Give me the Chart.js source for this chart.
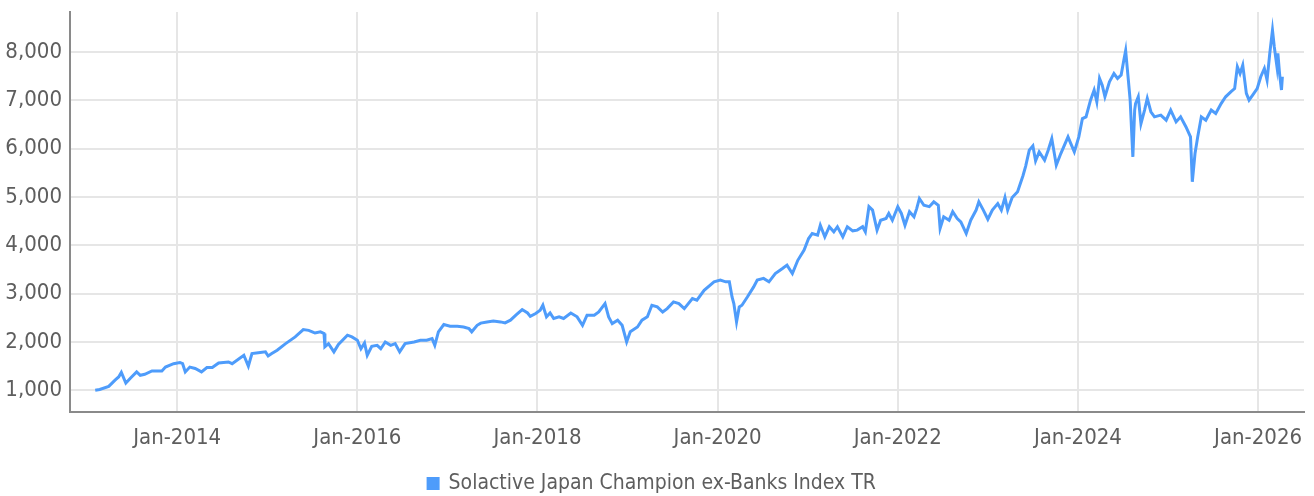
<!DOCTYPE html>
<html>
<head>
<meta charset="utf-8">
<script src="https://cdn.jsdelivr.net/npm/chart.js@4"></script>
<style>
html,body{margin:0;padding:0;background:#fff;}
#wrap{width:1314px;height:496px;position:relative;}
</style>
</head>
<body>
<div id="wrap"><canvas id="c"></canvas></div>
<script>
// Series label
const seriesName = "Solactive Japan Champion ex-Banks Index TR";

// Dates as decimal years
const dates = [
2013.09,2013.14,2013.24,2013.31,2013.35,2013.38,2013.43,2013.48,2013.55,2013.59,2013.64,2013.72,2013.83,2013.87,2013.96,
2014.03,2014.06,2014.09,2014.14,2014.20,2014.27,2014.33,2014.39,2014.46,2014.57,2014.61,2014.74,2014.79,2014.83,2014.90,2014.98,
2015.01,2015.05,2015.11,2015.20,2015.31,2015.40,2015.46,2015.50,2015.53,2015.59,2015.63,2015.64,2015.68,2015.74,2015.79,2015.89,2015.94,
2016.00,2016.04,2016.08,2016.11,2016.16,2016.22,2016.26,2016.31,2016.37,2016.42,2016.47,2016.53,2016.63,2016.70,2016.77,2016.83,2016.86,2016.90,2016.96,
2017.03,2017.11,2017.18,2017.24,2017.27,2017.33,2017.37,2017.44,2017.51,2017.59,2017.64,2017.70,2017.76,2017.83,2017.89,2017.92,2017.98,
2018.03,2018.06,2018.10,2018.14,2018.18,2018.24,2018.29,2018.37,2018.44,2018.50,2018.55,2018.63,2018.68,2018.75,2018.79,2018.83,2018.89,2018.94,2018.99,
2019.03,2019.11,2019.16,2019.22,2019.27,2019.33,2019.39,2019.44,2019.51,2019.57,2019.63,2019.72,2019.77,2019.85,2019.96,
2020.03,2020.09,2020.13,2020.16,2020.18,2020.21,2020.24,2020.27,2020.33,2020.40,2020.44,2020.51,2020.57,2020.64,2020.72,2020.77,2020.83,2020.89,2020.96,
2021.01,2021.05,2021.11,2021.14,2021.19,2021.24,2021.29,2021.33,2021.39,2021.44,2021.50,2021.55,2021.61,2021.64,2021.68,2021.72,2021.77,2021.81,2021.87,2021.90,2021.94,
2022.00,2022.04,2022.08,2022.13,2022.18,2022.21,2022.24,2022.29,2022.35,2022.40,2022.45,2022.47,2022.51,2022.57,2022.61,2022.66,2022.70,2022.76,2022.81,2022.87,2022.90,2022.95,
2023.00,2023.05,2023.11,2023.15,2023.19,2023.22,2023.27,2023.33,2023.39,2023.42,2023.46,2023.50,2023.53,2023.57,2023.63,2023.67,2023.71,2023.76,2023.81,2023.89,2023.92,2023.96,
2024.01,2024.05,2024.09,2024.14,2024.18,2024.21,2024.24,2024.27,2024.30,2024.35,2024.40,2024.44,2024.48,2024.51,2024.53,2024.56,2024.58,2024.61,2024.63,2024.64,2024.67,2024.70,2024.74,2024.77,2024.81,2024.85,2024.92,2024.98,
2025.03,2025.09,2025.14,2025.20,2025.25,2025.27,2025.30,2025.33,2025.37,2025.42,2025.48,2025.53,2025.59,2025.64,2025.70,2025.74,2025.77,2025.80,2025.83,2025.87,2025.90,2025.94,2025.99,
2026.03,2026.07,2026.10,2026.13,2026.16,2026.18,2026.21,2026.22,2026.24,2026.26,2026.27
];

// Index values
const values = [
1000,1015,1080,1210,1275,1370,1150,1250,1380,1310,1330,1400,1400,1480,1550,
1575,1550,1380,1480,1450,1380,1470,1470,1565,1585,1550,1725,1500,1760,1775,1795,
1710,1760,1830,1960,2105,2255,2240,2210,2185,2210,2175,1900,1965,1795,1950,2140,2105,
2035,1860,1980,1725,1910,1930,1860,2000,1930,1965,1795,1965,2000,2035,2035,2070,1930,2210,2360,
2325,2325,2310,2275,2210,2345,2390,2415,2435,2415,2395,2450,2555,2670,2600,2530,2590,
2655,2760,2520,2600,2485,2520,2485,2600,2520,2345,2555,2555,2620,2795,2520,2380,2450,2345,2000,
2210,2310,2450,2520,2760,2725,2620,2690,2830,2795,2690,2900,2865,3070,3245,
3280,3245,3245,2930,2795,2415,2725,2760,2930,3140,3280,3315,3245,3415,3520,3590,3415,3690,3900,
4140,4245,4210,4415,4175,4385,4280,4385,4175,4385,4300,4315,4385,4280,4800,4730,4315,4520,4555,4660,4520,
4800,4660,4415,4695,4590,4760,4970,4830,4800,4900,4830,4350,4590,4520,4695,4555,4485,4245,4520,4730,4900,4730,
4540,4730,4865,4730,4990,4730,4990,5110,5440,5640,5970,6060,5750,5935,5765,5970,6210,5660,5900,6245,6110,5935,
6245,6625,6660,7005,7215,6970,7455,7315,7075,7385,7555,7455,7525,7835,8030,7420,7005,5830,6800,6935,7075,6520,6800,7040,6765,6660,6695,6590,
6800,6555,6660,6450,6245,5315,5900,6245,6660,6590,6800,6730,6935,7075,7180,7245,7695,7555,7730,7145,7005,7110,7245,
7490,7660,7420,7975,8455,8110,7695,7975,7525,7215,7490
];

// X tick positions (decimal years) and labels
const xTickYears = [2014, 2016, 2018, 2020, 2022, 2024, 2026];
const xTickLabels = ["Jan-2014","Jan-2016","Jan-2018","Jan-2020","Jan-2022","Jan-2024","Jan-2026"];
// Y ticks
const yTicks = [1000, 2000, 3000, 4000, 5000, 6000, 7000, 8000];

const FONT = "'DejaVu Sans Condensed','Liberation Sans Narrow',sans-serif";
const lineColor = '#4e9cfb';
const textColor = '#5e5e5e';

const points = dates.map((d, i) => ({x: d, y: values[i]}));

new Chart(document.getElementById('c'), {
  type: 'line',
  data: {
    datasets: [{
      label: seriesName,
      data: points,
      borderColor: lineColor,
      backgroundColor: lineColor,
      borderWidth: 3,
      pointRadius: 0,
      tension: 0,
      fill: false
    }]
  },
  options: {
    responsive: true,
    maintainAspectRatio: false,
    animation: false,
    layout: {padding: {left: 0, right: 10, top: 12, bottom: -8}},
    plugins: {
      tooltip: {enabled: false},
      legend: {
        display: true,
        position: 'bottom',
        labels: {
          boxWidth: 10,
          boxHeight: 10,
          color: textColor,
          padding: 10,
          font: {family: FONT, size: 21}
        }
      }
    },
    scales: {
      x: {
        type: 'linear',
        min: 2012.81,
        max: 2026.51,
        afterBuildTicks: (axis) => { axis.ticks = xTickYears.map(v => ({value: v})); },
        afterFit: (scale) => { scale.paddingLeft = 0; scale.paddingRight = 0; scale.height = 51; },
        grid: {color: '#e6e6e6', lineWidth: 2, drawTicks: false},
        border: {color: '#8a8a8a', width: 2},
        ticks: {
          color: textColor,
          padding: 13,
          maxRotation: 0,
          font: {family: FONT, size: 22},
          callback: (v) => { const i = xTickYears.indexOf(v); return i >= 0 ? xTickLabels[i] : ''; }
        }
      },
      y: {
        min: 550,
        max: 8830,
        afterBuildTicks: (axis) => { axis.ticks = yTicks.map(v => ({value: v})); },
        afterFit: (scale) => { scale.width = 70; scale.paddingTop = 0; scale.paddingBottom = 0; },
        grid: {color: '#e6e6e6', lineWidth: 2, drawTicks: false},
        border: {color: '#8a8a8a', width: 2},
        ticks: {
          color: textColor,
          padding: 8,
          font: {family: FONT, size: 22},
          callback: (v) => v.toLocaleString('en-US')
        }
      }
    }
  }
});
</script>
</body>
</html>
